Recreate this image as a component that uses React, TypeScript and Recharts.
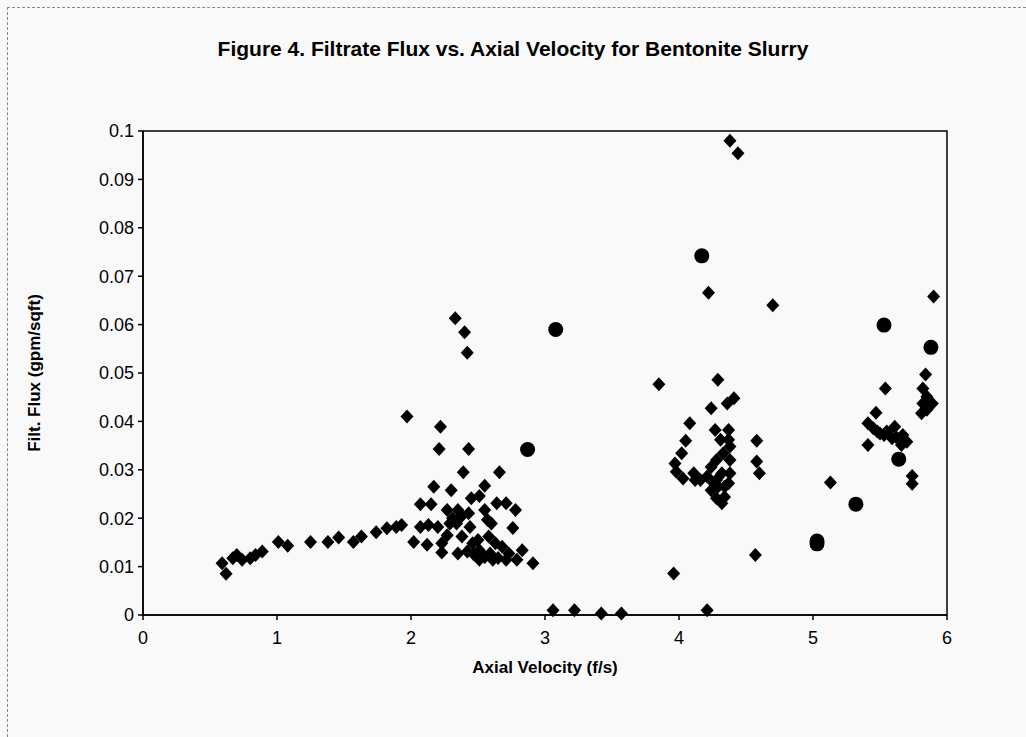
import { ScatterChart, Scatter, XAxis, YAxis, ReferenceArea } from 'recharts';

// axial velocity (f/s) and filtrate flux (gpm/sqft), diamond markers
const diamondVelocity = [
  0.59, 0.62, 0.67, 0.70, 0.74, 0.80, 0.84, 0.89, 1.01, 1.08, 1.25, 1.38, 1.46, 1.57, 1.63, 1.74, 1.82, 1.89,
  2.33, 2.40, 2.42, 1.97, 2.22, 2.21, 2.43, 2.39, 2.66, 2.17, 2.30, 2.55, 2.07, 2.15, 2.45, 2.51, 2.64, 2.71,
  2.78, 2.27, 2.35, 2.43, 2.55, 2.60, 2.76, 1.93, 2.07, 2.13, 2.20, 2.29, 2.34, 2.44, 2.02, 2.12, 2.23, 2.38,
  2.23, 2.35, 2.46, 2.51, 2.58, 2.59, 2.61, 2.68, 2.73, 2.79, 2.83, 2.91, 2.71, 2.42, 2.51, 2.47, 2.55, 2.65,
  2.38, 2.31, 2.50, 2.63, 2.27, 2.57,
  3.06, 3.22, 3.42, 3.57, 4.21,
  3.85, 3.96, 4.38, 4.44, 4.22, 4.70, 4.29, 4.36, 4.41, 4.24, 4.08, 4.05, 4.27, 4.37, 4.58, 4.02, 3.97, 3.98,
  4.03, 4.12, 4.11, 4.58, 4.60, 4.24, 4.28, 4.32, 4.34, 4.37, 4.38, 4.38, 4.38, 4.37, 4.31, 4.28, 4.24, 4.21,
  4.16, 4.28, 4.32, 4.33, 4.34, 4.29, 4.26, 4.57,
  5.90, 5.84, 5.54, 5.82, 5.85, 5.89, 5.82, 5.85, 5.81, 5.47, 5.41, 5.45, 5.50, 5.55, 5.61, 5.62, 5.67, 5.70,
  5.59, 5.53, 5.66, 5.48, 5.41, 5.74, 5.74, 5.13,
];
const diamondFlux = [
  0.0107, 0.0085, 0.0117, 0.0124, 0.0114, 0.0117, 0.0124, 0.0131, 0.0151, 0.0143, 0.0151, 0.0151, 0.016, 0.0151, 0.0162, 0.0171, 0.0179, 0.0182,
  0.0613, 0.0584, 0.0542, 0.041, 0.0389, 0.0343, 0.0343, 0.0295, 0.0295, 0.0265, 0.0258, 0.0267, 0.0229, 0.0229, 0.0241, 0.0246, 0.0231, 0.0231,
  0.0217, 0.0217, 0.0217, 0.021, 0.0217, 0.0189, 0.018, 0.0186, 0.0182, 0.0186, 0.0182, 0.0189, 0.0189, 0.0182, 0.0151, 0.0145, 0.0148, 0.0162,
  0.0129, 0.0127, 0.0148, 0.0134, 0.0162, 0.0127, 0.0114, 0.0141, 0.0127, 0.0114, 0.0134, 0.0107, 0.0114, 0.0131, 0.0114, 0.0125, 0.012, 0.0118,
  0.0205, 0.02, 0.0155, 0.0148, 0.0165, 0.0197,
  0.001, 0.001, 0.0003, 0.0003, 0.001,
  0.0477, 0.0086, 0.098, 0.0954, 0.0666, 0.064, 0.0486, 0.0437, 0.0448, 0.0427, 0.0396, 0.036, 0.0382, 0.0382, 0.036, 0.0334, 0.0313, 0.0296,
  0.0282, 0.0279, 0.0293, 0.0317, 0.0293, 0.0258, 0.0241, 0.0231, 0.0244, 0.0272, 0.0293, 0.032, 0.0348, 0.0362, 0.0362, 0.032, 0.0306, 0.0286,
  0.0279, 0.0279, 0.0293, 0.0334, 0.0265, 0.0265, 0.0272, 0.0124,
  0.0658, 0.0497, 0.0468, 0.0468, 0.0451, 0.0437, 0.0437, 0.0424, 0.0417, 0.0418, 0.0396, 0.0386, 0.0375, 0.0379, 0.0389, 0.0368, 0.0372, 0.0358,
  0.0365, 0.0372, 0.0351, 0.0379, 0.0351, 0.0287, 0.0271, 0.0274,
];

// circle markers
const circleVelocity = [2.87, 3.08, 4.17, 5.03, 5.03, 5.32, 5.53, 5.64, 5.88];
const circleFlux = [0.0342, 0.059, 0.0742, 0.0147, 0.0153, 0.0229, 0.0599, 0.0322, 0.0553];

const xTicks = [0, 1, 2, 3, 4, 5, 6];
const yTicks = [0, 0.01, 0.02, 0.03, 0.04, 0.05, 0.06, 0.07, 0.08, 0.09, 0.1];

const diamonds = diamondVelocity.map((x, i) => ({ x, y: diamondFlux[i] }));
const circles = circleVelocity.map((x, i) => ({ x, y: circleFlux[i] }));

const font = '"Liberation Sans", Arial, sans-serif';

const Diamond = (props: any) => {
  const { cx, cy } = props;
  return <path d={`M${cx},${cy - 7}L${cx + 6.5},${cy}L${cx},${cy + 7}L${cx - 6.5},${cy}Z`} fill="#000" />;
};

const Dot = (props: any) => <circle cx={props.cx} cy={props.cy} r={7.5} fill="#000" />;

export default function App() {
  return (
    <div style={{ position: 'absolute', left: 0, top: 0, width: 1026, height: 737, background: '#f9f9f9', fontFamily: font, overflow: 'hidden' }}>
      <div style={{ position: 'absolute', left: 7, top: 7, right: 0, bottom: 0, borderTop: '1px dashed #888', borderLeft: '1px dashed #888' }} />
      <div style={{ position: 'absolute', left: 0, width: 1026, top: 37, textAlign: 'center', fontSize: 21, fontWeight: 'bold', color: '#000' }}>
        Figure 4. Filtrate Flux vs. Axial Velocity for Bentonite Slurry
      </div>
      <ScatterChart width={1026} height={737} margin={{ top: 131, right: 79, bottom: 82, left: 83 }} style={{ position: 'absolute', left: 0, top: 0 }}>
        <XAxis
          type="number"
          dataKey="x"
          domain={[0, 6]}
          ticks={xTicks}
          height={40}
          stroke="#000"
          strokeWidth={1.5}
          tickSize={5}
          tickMargin={11}
          tick={{ fill: '#000', fontSize: 18, fontFamily: font }}
        />
        <YAxis
          type="number"
          dataKey="y"
          domain={[0, 0.1]}
          ticks={yTicks}
          width={60}
          stroke="#000"
          strokeWidth={1.5}
          tickSize={5}
          tickMargin={4}
          tickFormatter={(v: number) => String(Number(v.toFixed(2)))}
          tick={{ fill: '#000', fontSize: 18, fontFamily: font }}
        />
        <ReferenceArea x1={0} x2={6} y1={0} y2={0.1} fill="none" stroke="#000" strokeWidth={1.5} ifOverflow="visible" />
        <Scatter data={diamonds} shape={Diamond} isAnimationActive={false} />
        <Scatter data={circles} shape={Dot} isAnimationActive={false} />
      </ScatterChart>
      <div style={{ position: 'absolute', left: 0, width: 1090, top: 658, textAlign: 'center', fontSize: 17, fontWeight: 'bold', color: '#000' }}>
        Axial Velocity (f/s)
      </div>
      <div style={{ position: 'absolute', left: 35, top: 373, transform: 'translate(-50%, -50%) rotate(-90deg)', whiteSpace: 'nowrap', fontSize: 17, fontWeight: 'bold', color: '#000' }}>
        Filt. Flux (gpm/sqft)
      </div>
    </div>
  );
}
